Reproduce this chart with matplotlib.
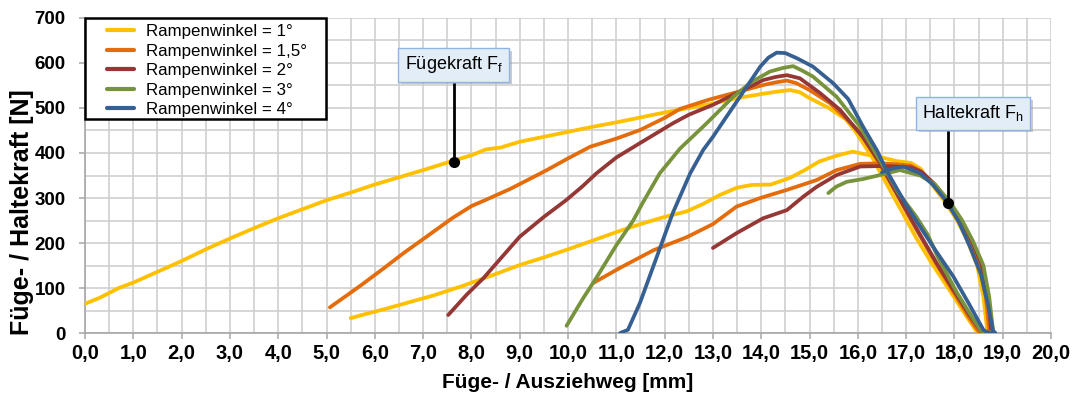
"""
Füge- / Haltekraft over Füge- / Ausziehweg for five ramp angles.
"""

import matplotlib
matplotlib.use("Agg")
import matplotlib.pyplot as plt
import matplotlib.ticker as mticker
import matplotlib.patheffects as pe
from matplotlib.patches import Rectangle

# -- Data ----------------------------------------------------------------------
x_1 = [0.0, 0.3, 0.7, 1.0, 1.5, 2.0, 2.5, 3.0, 3.5, 4.0, 4.5, 5.0, 5.5, 6.0, 6.5,
       7.0, 7.6, 8.0, 8.3, 8.6, 9.0, 9.5, 10.0, 10.5, 11.0, 11.5, 12.0, 12.5,
       13.0, 13.5, 14.0, 14.3, 14.6, 14.8, 15.0, 15.4, 15.75, 15.95, 16.3, 16.5,
       16.9, 17.2, 17.5, 17.9, 18.2, 18.45, 18.6, 18.68, 18.6, 18.47, 18.25,
       18.03, 17.8, 17.5, 17.3, 17.1, 16.8, 16.5, 16.2, 15.9, 15.7, 15.5, 15.2,
       14.9, 14.6, 14.2, 13.8, 13.5, 13.15, 12.8, 12.45, 12.0, 11.5, 11.1, 10.5,
       10.0, 9.5, 9.0, 8.4, 7.8, 7.2, 6.7, 6.2, 5.8, 5.5]
y_1 = [65, 78, 100, 112, 136, 160, 186, 210, 233, 255, 275, 295, 312, 330, 346,
       362, 382, 395, 408, 412, 425, 436, 447, 458, 468, 479, 490, 500,
       510, 522, 531, 536, 540, 535, 522, 500, 475, 448, 390, 350,
       272, 213, 160, 95, 45, 5, 0, 5, 80, 150, 210,
       255, 292, 335, 365, 378, 382, 390, 396, 403, 398, 392, 381,
       362, 345, 330, 329, 323, 307, 287, 270, 258, 242, 228, 205,
       186, 168, 151, 127, 104, 83, 68, 53, 42, 33]

x_15 = [5.07, 5.4, 5.7, 6.2, 6.6, 7.07, 7.6, 8.0, 8.3, 8.8, 9.2, 9.56, 10.0,
        10.46, 11.0, 11.49, 12.0, 12.32, 12.9, 13.42, 14.04, 14.3, 14.53, 14.73,
        15.0, 15.42, 15.8, 16.05, 16.4, 16.8, 17.2, 17.6, 18.0, 18.3, 18.5,
        18.65, 18.72, 18.65, 18.52, 18.32, 18.1, 17.85, 17.55, 17.3, 17.1, 16.8,
        16.5, 16.05, 15.56, 15.15, 14.87, 14.53, 13.98, 13.49, 13.0, 12.46,
        11.77, 11.08, 10.52]
y_15 = [57, 82, 105, 145, 178, 214, 255, 282, 296, 320, 342, 362, 388,
        414, 432, 451, 478, 498, 518, 533, 551, 557, 561, 555,
        540, 511, 472, 445, 385, 310, 232, 158, 88, 35, 3,
        0, 5, 80, 150, 205, 252, 292, 333, 360, 372, 375,
        377, 376, 362, 340, 330, 318, 300, 281, 242, 213,
        184, 145, 111]

x_2 = [7.52, 7.9, 8.25, 8.6, 9.0, 9.5, 9.97, 10.3, 10.59, 11.0, 11.49, 12.17,
       12.5, 13.0, 13.49, 14.04, 14.3, 14.53, 14.8, 15.22, 15.63, 16.1, 16.45,
       16.85, 17.25, 17.65, 18.05, 18.35, 18.55, 18.7, 18.76, 18.7, 18.57,
       18.36, 18.13, 17.87, 17.57, 17.32, 17.1, 16.8, 16.5, 16.05, 15.56,
       15.15, 14.87, 14.53, 14.04, 13.49, 13.0]
y_2 = [40, 85, 122, 165, 214, 258, 296, 326, 355, 390, 422, 466,
       485, 507, 533, 562, 569, 573, 566, 533, 496, 436, 380,
       302, 226, 152, 84, 34, 4, 0, 5, 80, 150,
       205, 252, 292, 333, 358, 368, 370, 371, 370, 351,
       325, 303, 273, 255, 222, 189]

x_3 = [9.97, 10.3, 10.6, 11.0, 11.35, 11.55, 11.9, 12.32, 12.87, 13.42, 13.8,
       14.18, 14.45, 14.66, 14.85, 15.07, 15.56, 16.05, 16.45, 16.85, 17.2,
       17.45, 17.65, 18.05, 18.35, 18.55, 18.7, 18.8, 18.72, 18.6, 18.38,
       18.15, 17.9, 17.6, 17.29, 16.87, 16.46, 16.1, 15.77, 15.55, 15.39]
y_3 = [16, 75, 125, 195, 250, 290, 355, 410, 466, 525, 558,
       581, 589, 593, 583, 570, 525, 458, 385, 310, 260,
       218, 170, 90, 38, 5, 0, 5, 80, 150, 205,
       252, 292, 330, 350, 362, 351, 342, 336, 325, 311]

x_4 = [11.08, 11.24, 11.49, 11.84, 12.17, 12.53, 12.8, 13.0, 13.56, 13.98,
       14.15, 14.32, 14.5, 14.75, 15.07, 15.49, 15.8, 16.1, 16.4, 16.6, 17.0,
       17.29, 17.6, 17.98, 18.3, 18.6, 18.7, 18.85, 18.8, 18.7, 18.55, 18.32,
       18.1, 17.84, 17.55, 17.29, 16.94, 16.7, 16.5]
y_4 = [0, 7, 67, 170, 267, 355, 407, 436, 525, 592,
       612, 623, 622, 610, 592, 555, 520, 460, 405, 360, 285,
       236, 185, 125, 65, 7, 0, 0, 5, 60, 130, 192,
       245, 292, 330, 355, 370, 365, 357]

SERIES = [
    ("Rampenwinkel = 1°",   x_1,  y_1,  "#FFC000"),
    ("Rampenwinkel = 1,5°", x_15, y_15, "#E46C0A"),
    ("Rampenwinkel = 2°",   x_2,  y_2,  "#953735"),
    ("Rampenwinkel = 3°",   x_3,  y_3,  "#77933C"),
    ("Rampenwinkel = 4°",   x_4,  y_4,  "#376092"),
]

# annotation points (dot on curve, box centre)
FF_DOT, FF_BOX = (7.63, 381), (7.63, 596)
FH_DOT, FH_BOX = (17.87, 289), (18.38, 488)

# -- Styling -------------------------------------------------------------------
plt.rcParams["font.family"] = ["Liberation Sans", "DejaVu Sans"]
plt.rcParams["mathtext.fontset"] = "custom"
plt.rcParams["mathtext.rm"] = "Liberation Sans"
GRID_C = "#cfcfcf"


def comma_fmt(v, _pos):
    return f"{v:.1f}".replace(".", ",")


fig = plt.figure(figsize=(10.76, 3.99), dpi=100)
ax = fig.add_axes([0.079, 0.1654, 0.8978, 0.7895])

for label, xs, ys, color in SERIES:
    ax.plot(xs, ys, color=color, lw=2.7, label=label, zorder=3,
            solid_capstyle="round", solid_joinstyle="round")

ax.set_xlim(0, 20)
ax.set_ylim(0, 700)
ax.xaxis.set_major_locator(mticker.MultipleLocator(1))
ax.xaxis.set_minor_locator(mticker.MultipleLocator(0.5))
ax.yaxis.set_major_locator(mticker.MultipleLocator(100))
ax.yaxis.set_minor_locator(mticker.MultipleLocator(50))
ax.xaxis.set_major_formatter(mticker.FuncFormatter(comma_fmt))
ax.grid(True, which="both", color=GRID_C, lw=1.2, zorder=0)
ax.set_axisbelow(True)

for s in ("top", "right"):
    ax.spines[s].set_visible(False)
for s in ("left", "bottom"):
    ax.spines[s].set_color("#a6a6a6")
    ax.spines[s].set_linewidth(1.2)
ax.tick_params(which="major", length=4, width=1.1, color="#a6a6a6")
ax.tick_params(axis="x", labelsize=14.5, pad=4)
ax.tick_params(axis="y", labelsize=13.5, pad=10)
ax.tick_params(which="minor", length=0)
for lab in ax.get_xticklabels() + ax.get_yticklabels():
    lab.set_fontweight("bold")

ax.set_xlabel("Füge- / Ausziehweg [mm]", fontsize=15, fontweight="bold",
              labelpad=7)
fig.text(22 / 1076, 1 - 212 / 399, "Füge- / Haltekraft [N]", fontsize=18,
         fontweight="bold", rotation=90, ha="center", va="center")

# legend: frame drawn separately (wide side padding, tight top/bottom)
ax.add_patch(Rectangle((0, 1 - 101 / 315), 241 / 966, 101 / 315,
                       transform=ax.transAxes, fc="white", ec="black", lw=1.8,
                       zorder=9, clip_on=False))
leg = ax.legend(loc="upper left", bbox_to_anchor=(22 / 966, 1 - 6 / 315),
                borderaxespad=0, fontsize=12.2, frameon=False,
                handlelength=1.6, handletextpad=0.7, labelspacing=0.27,
                borderpad=0)
leg.set_zorder(10)
for ln in leg.get_lines():
    ln.set_linewidth(3)

# -- Annotations -----------------------------------------------------------------
for dot, box, text in ((FF_DOT, FF_BOX, r"Fügekraft F$_{\mathrm{f}}$"),
                       (FH_DOT, FH_BOX, r"Haltekraft F$_{\mathrm{h}}$")):
    ax.plot([dot[0], dot[0]], [dot[1], box[1]], color="black", lw=2, zorder=5)
    ax.plot([dot[0]], [dot[1]], "o", color="black", ms=7, zorder=5)
    t = ax.text(box[0], box[1], text, fontsize=13, ha="center", va="center",
                zorder=6,
                bbox=dict(boxstyle="square,pad=0.35", fc="#e3edf8",
                          ec="#8eb4e3", lw=1))
    t.get_bbox_patch().set_path_effects(
        [pe.withSimplePatchShadow(offset=(2, -2), shadow_rgbFace="#999999",
                                  alpha=0.5)])

fig.savefig("out.png", dpi=100)
